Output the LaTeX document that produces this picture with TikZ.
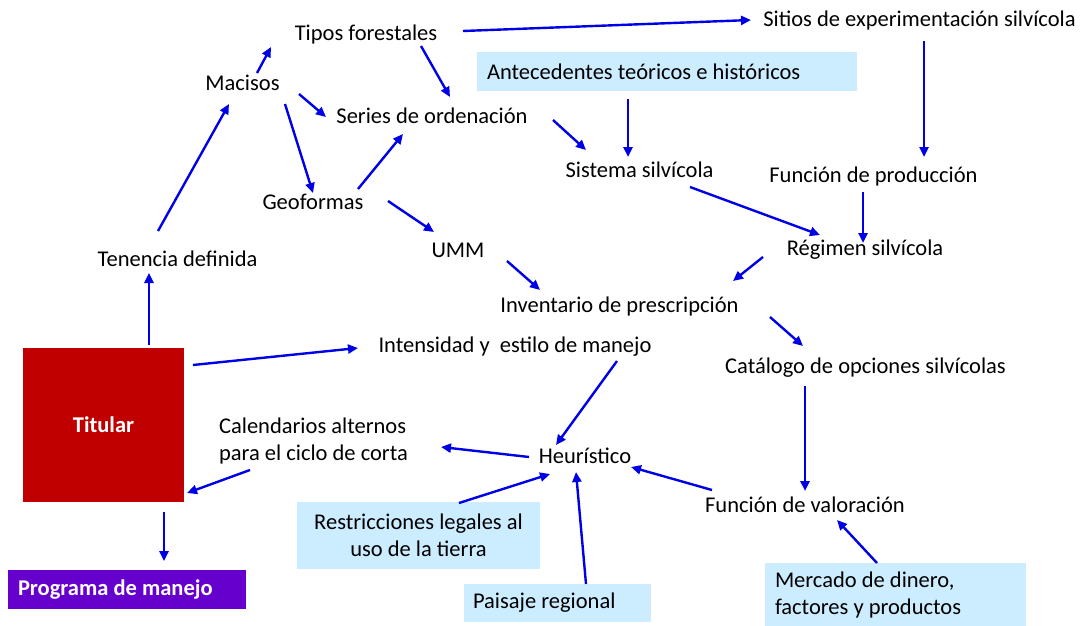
\documentclass[tikz,border=0pt]{standalone}
\usepackage{fontspec}
\setmainfont{Carlito}
\usetikzlibrary{arrows.meta}
\definecolor{titularred}{RGB}{192,0,0}
\definecolor{programapurple}{RGB}{102,0,204}
\definecolor{fuenteblue}{RGB}{204,236,255}
\definecolor{flechablue}{RGB}{0,0,230}
\newcommand{\typeT}{titularred}
\newcommand{\typeP}{programapurple}
\newcommand{\typeF}{fuenteblue}
\newcommand{\diagfont}{\fontsize{22.5}{27}\selectfont}

\begin{document}
\begin{tikzpicture}[x=1pt,y=-1pt,inner sep=0pt,outer sep=0pt,font=\diagfont,
	flecha/.style={draw=flechablue,line width=2.4pt,-{Triangle[length=10pt,width=9pt]}},
	fuente/.style={fill=\typeF,align=flush left,inner xsep=10pt}]
	\useasboundingbox (0,0) rectangle (1082,626);
	\node[anchor=base] (tipos) at (366,41) {Tipos forestales};
	\node[anchor=base] (mac) at (242.5,91) {Macisos};
	\node[anchor=base] (series) at (432,124) {Series de ordenación};
	\node[anchor=base] (geo) at (313,209) {Geoformas};
	\node[anchor=base] (umm) at (458,257) {UMM};
	\node[anchor=base] (tenencia) at (177.5,266) {Tenencia definida};
	\node[anchor=base] (sitios) at (919.5,27) {Sitios de experimentación silvícola};
	\node[anchor=base] (sistema) at (639.5,177) {Sistema silvícola};
	\node[anchor=base] (funprod) at (873.5,182) {Función de producción};
	\node[anchor=base] (regimen) at (865,255) {Régimen silvícola};
	\node[anchor=base] (inventario) at (619.5,312) {Inventario de prescripción};
	\node[anchor=base] (intens) at (515,352) {Intensidad y\ \ estilo de manejo};
	\node[anchor=base] (catalogo) at (865.5,373) {Catálogo de opciones silvícolas};
	\node[anchor=base] (heur) at (585,463) {Heurístico};
	\node[anchor=base] (funval) at (805,512) {Función de valoración};
	\node[align=flush left] (calend) at (313.5,441) {Calendarios alternos\\para el ciclo de corta};
	\node[fuente,text width=360pt,minimum height=39pt] (antec) at (667,71.5) {Antecedentes teóricos e históricos};
	\node[fuente,align=center,minimum width=243pt,minimum height=67pt] (restr) at (418.5,535.5) {Restricciones legales al\\uso de la tierra};
	\node[fuente,text width=169pt,inner xsep=9pt,minimum height=38pt] (paisaje) at (557.5,603) {Paisaje regional};
	\node[fuente,text width=241pt,minimum height=63pt] (mercado) at (895.5,594.5) {Mercado de dinero,\\factores y productos};
	\node[fill=\typeT,minimum width=161pt,minimum height=154pt,text=white,font=\diagfont\bfseries] (titular) at (103.5,425) {Titular};
	\node[fill=\typeP,text width=218pt,inner xsep=10pt,minimum height=39pt,align=flush left,text=white,font=\diagfont\bfseries] (programa) at (127,589.5) {Programa de manejo};

	\draw[flecha] ([shift={(97,-10)}]tipos.base) -- ([shift={(-168.5,-7)}]sitios.base);
	\draw[flecha] ([shift={(55,5)}]tipos.base) -- ([shift={(18,-27)}]series.base);
	\draw[flecha] ([shift={(14.5,-18)}]mac.base) -- ([shift={(-95,6)}]tipos.base);
	\draw[flecha] ([shift={(56.5,3)}]mac.base) -- ([shift={(-106,-7)}]series.base);
	\draw[flecha] ([shift={(42.5,13)}]mac.base) -- ([shift={(0,-16)}]geo.base);
	\draw[flecha] ([shift={(45,-20)}]geo.base) -- ([shift={(-29,10)}]series.base);
	\draw[flecha] ([shift={(75,-8)}]geo.base) -- ([shift={(-24,-25)}]umm.base);
	\draw[flecha] ([shift={(-19.5,-35)}]tenencia.base) -- ([shift={(-13.5,13)}]mac.base);
	\draw[flecha] ([shift={(45.5,-80)}]titular.center) -- ([shift={(-28.5,7)}]tenencia.base);
	\draw[flecha] ([shift={(49,4)}]umm.base) -- ([shift={(-79.5,-22)}]inventario.base);
	\draw[flecha] ([shift={(121,-4)}]series.base) -- ([shift={(-53.5,-27)}]sistema.base);
	\draw[flecha] ([shift={(-39,27.5)}]antec.center) -- ([shift={(-11.5,-20)}]sistema.base);
	\draw[flecha] ([shift={(4.5,14)}]sitios.base) -- ([shift={(50.5,-25)}]funprod.base);
	\draw[flecha] ([shift={(50.5,10)}]sistema.base) -- ([shift={(-45,-20)}]regimen.base);
	\draw[flecha] ([shift={(-10.5,10)}]funprod.base) -- ([shift={(-2,-12)}]regimen.base);
	\draw[flecha] ([shift={(-102,2)}]regimen.base) -- ([shift={(113.5,-31)}]inventario.base);
	\draw[flecha] ([shift={(150.5,5)}]inventario.base) -- ([shift={(-62.5,-27)}]catalogo.base);
	\draw[flecha] ([shift={(89.5,-60)}]titular.center) -- ([shift={(-157,-4)}]intens.base);
	\draw[flecha] ([shift={(102,9)}]intens.base) -- ([shift={(-29,-18)}]heur.base);
	\draw[flecha] ([shift={(-56,-6)}]heur.base) -- ([shift={(127.5,6)}]calend.center);
	\draw[flecha] ([shift={(-63.5,29)}]calend.center) -- ([shift={(83.5,68)}]titular.center);
	\draw[flecha] ([shift={(60.5,87)}]titular.center) -- ([shift={(37,-28.5)}]programa.center);
	\draw[flecha] ([shift={(40.5,-32.5)}]restr.center) -- ([shift={(-35,11)}]heur.base);
	\draw[flecha] ([shift={(28.5,-19)}]paisaje.center) -- ([shift={(-9,9)}]heur.base);
	\draw[flecha] ([shift={(-93,-22)}]funval.base) -- ([shift={(46,4)}]heur.base);
	\draw[flecha] ([shift={(-60.5,13)}]catalogo.base) -- ([shift={(0,-21)}]funval.base);
	\draw[flecha] ([shift={(-18.5,-31.5)}]mercado.center) -- ([shift={(32,8)}]funval.base);
\end{tikzpicture}
\end{document}
